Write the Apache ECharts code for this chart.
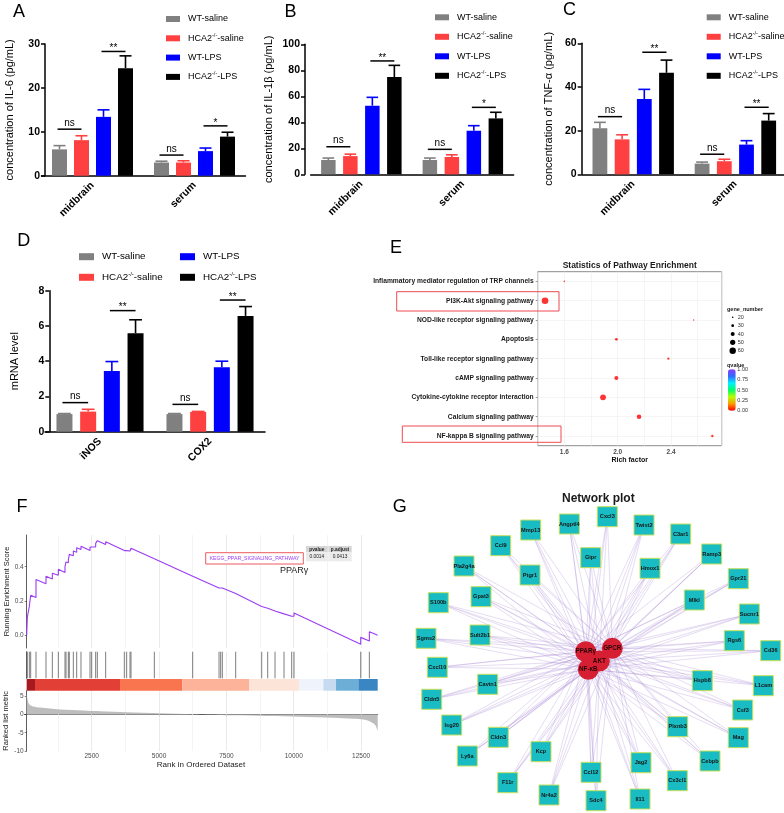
<!DOCTYPE html>
<html><head><meta charset="utf-8">
<script src="https://cdn.jsdelivr.net/npm/echarts@6/dist/echarts.min.js"></script>
<style>html,body{margin:0;padding:0;background:#fff}#c{width:784px;height:813px}</style>
</head><body><div id="c"></div><script>
const FONT = '"Liberation Sans", Arial, Helvetica, sans-serif';

// ================= DATA =================
// Bar panels (A-D)
const groupNames = ['WT-saline', 'HCA2-/--saline', 'WT-LPS', 'HCA2-/--LPS'];
const cytoCats = ['midbrain', 'serum'];
const mrnaCats = ['iNOS', 'COX2'];
// mean[group][category], sem[group][category]
const il6Mean = [[6.0, 3.0], [8.1, 3.0], [13.4, 5.6], [24.5, 8.9]];
const il6Sem  = [[0.85, 0.3], [1.0, 0.4], [1.6, 0.7], [2.8, 1.0]];
const il1bMean = [[11.0, 11.0], [14.0, 13.3], [52.8, 33.5], [74.8, 43.0]];
const il1bSem  = [[1.5, 1.5], [1.5, 1.7], [6.4, 3.9], [9.0, 4.7]];
const tnfMean = [[21.1, 4.9], [16.0, 6.0], [34.5, 13.6], [46.5, 24.6]];
const tnfSem  = [[2.7, 0.7], [2.1, 0.9], [4.4, 1.8], [5.8, 3.2]];
const mrnaMean = [[1.0, 1.0], [1.14, 1.12], [3.45, 3.66], [5.59, 6.57]];
const mrnaSem  = [[0.03, 0.03], [0.13, 0.03], [0.53, 0.34], [0.76, 0.53]];
// significance brackets: [category, fromGroup, toGroup, level]
const il6Sig  = [[0, 0, 1, 10.6], [0, 2, 3, 28.3], [1, 0, 1, 4.7], [1, 2, 3, 11.35]];
const il6SigText = ['ns', '**', 'ns', '*'];
const il1bSig = [[0, 0, 1, 21.2], [0, 2, 3, 87.2], [1, 0, 1, 19.2], [1, 2, 3, 51.5]];
const il1bSigText = ['ns', '**', 'ns', '*'];
const tnfSig  = [[0, 0, 1, 26.4], [0, 2, 3, 55.9], [1, 0, 1, 9.2], [1, 2, 3, 30.7]];
const tnfSigText = ['ns', '**', 'ns', '**'];
const mrnaSig = [[0, 0, 1, 1.65], [0, 2, 3, 6.87], [1, 0, 1, 1.55], [1, 2, 3, 7.47]];
const mrnaSigText = ['ns', '**', 'ns', '**'];

// Panel E (pathway enrichment)
const pathways = ['Inflammatory mediator regulation of TRP channels', 'PI3K-Akt signaling pathway',
  'NOD-like receptor signaling pathway', 'Apoptosis', 'Toll-like receptor signaling pathway',
  'cAMP signaling pathway', 'Cytokine-cytokine receptor interaction', 'Calcium signaling pathway',
  'NF-kappa B signaling pathway'];
const richFactor = [1.60, 1.455, 2.57, 1.99, 2.38, 1.99, 1.89, 2.16, 2.71];
const geneNumber = [20, 62, 18, 30, 26, 40, 55, 45, 27];
const qValue = [0.01, 0.0, 0.02, 0.005, 0.01, 0.0, 0.0, 0.0, 0.01];
const richTicks = [1.6, 2.0, 2.4];
const geneLegend = [20, 30, 40, 50, 60];
const qTicks = [1.00, 0.75, 0.50, 0.25, 0.00];

// Panel F (GSEA)
const esCurve = [[84,0],[109,0],[109,0.105],[183,0.100],[183,0.170],[233,0.166],[233,0.233],[431,0.220],[431,0.325],
  [802,0.300],[802,0.345],[1037,0.328],[1037,0.362],[1260,0.350],[1260,0.385],[1507,0.366],[1507,0.400],
  [1545,0.398],[1545,0.428],[1631,0.423],[1631,0.438],[1668,0.436],[1668,0.472],[1817,0.464],[1817,0.492],
  [1941,0.485],[1941,0.510],[2101,0.500],[2101,0.520],[2436,0.495],[2436,0.515],[2498,0.511],[2498,0.526],
  [2646,0.516],[2646,0.536],[2708,0.532],[2708,0.552],[3017,0.530],[3017,0.545],[3710,0.494],[3710,0.500],
  [3797,0.494],[3797,0.500],[3921,0.492],[3921,0.497],[3958,0.495],[3958,0.508],[4824,0.446],[4824,0.452],
  [6248,0.345],[6248,0.350],[7226,0.276],[7226,0.281],[7287,0.277],[7287,0.281],[7349,0.276],[7349,0.280],
  [7844,0.244],[7844,0.249],[8810,0.168],[8810,0.176],[9033,0.158],[9033,0.164],[9305,0.142],[9305,0.150],
  [9639,0.125],[9639,0.132],[9924,0.111],[9924,0.118],[10010,0.112],[10010,0.130],[12486,-0.052],[12486,-0.012],
  [12807,-0.033],[12807,0.021],[13117,0.000]];
const hitRanks = [109,183,233,431,802,1037,1260,1507,1545,1631,1668,1817,1941,2101,2436,2498,2646,2708,3017,
  3710,3797,3921,3958,4824,6248,7226,7287,7349,7844,8810,9033,9305,9639,9924,10010,12486,12807];
const heatBands = [[84,394],[394,3550],[3550,5864],[5864,8352],[8352,10208],[10208,11100],[11100,11570],[11570,12399],[12399,13117]];
const rankedMetric = [[84,5.6],[146,3.3],[208,2.6],[332,2.2],[580,1.9],[951,1.6],[1322,1.35],[2189,1.05],[2808,0.85],
  [3798,0.6],[5036,0.3],[6274,0.05],[6769,-0.05],[7759,-0.25],[8996,-0.45],[10234,-0.65],[11472,-0.9],
  [12215,-1.15],[12586,-1.4],[12833,-1.9],[13018,-2.8],[13117,-4.5]];
const rankGridLines = [1250,2500,3750,5000,6250,7500,8750,10000,11250,12500];
const rankMax = 13117;
const gseaTable = {pathway: 'KEGG_PPAR_SIGNALING_PATHWAY', pvalue: '0.0014', padjust: '0.0413', gene: 'PPARγ'};

// Panel G (network) - layout coordinates of nodes
const hubNames = ['PPARγ', 'GPCR', 'AKT', 'NF-κB'];
const hubLayout = [[585.7,651.7],[612.3,648.3],[599.3,661],[588.3,669.3]];
const geneNames = ['Angptl4','Cxcl3','Twist2','C3ar1','Mmp13','Ccl9','Gipr','Hmox1','Ramp3','Pla2g4a','Ptgr1',
  'Gpr21','Gpat3','Mlkl','S100b','Sucnr1','Sult2b1','Sgms2','Rgs6','Cd36','Cxcl10','Cavin1','Hspb8','L1cam',
  'Cldn5','Csf3','Isg20','Plxnb3','Mag','Cldn3','Ly6a','Kcp','Cebpb','Jag2','Ccl12','Cx3cl1','F11r','Nr4a2','Sdc4','Il11'];
const geneLayout = [[569.3,524],[607.3,516.7],[644,525],[680.7,534],[530.7,530],[500.7,545.7],[590.7,557.7],
  [650,568.3],[711.7,554],[464,566],[530,575],[738.3,578.7],[481,596.7],[694.3,600],[438.3,602.7],[749.3,614],
  [480,635],[426,638.3],[734.3,640.7],[770.7,650.7],[437.3,667.3],[487.7,684.3],[702.3,680.7],[763.3,685.7],
  [431.7,699.3],[742.7,710],[451.7,725],[677.7,726.7],[738.3,737.7],[498.3,737.3],[467.3,756],[541,751.7],
  [710,761],[641,762.7],[591,772.3],[677.3,780.7],[507.7,782.7],[549,795],[596,800.7],[640,799]];

// ================= STYLE / LAYOUT =================
const barColors = ['#808080', '#FF4040', '#0000FF', '#000000'];
const heatColors = ['#A6191E','#E23F37','#F8754F','#FCB399','#FDE4D8','#EFF3FB','#C6DBEF','#6DAED7','#3A86C2'];
const qColors = ['#FF0000','#FF9A00','#B8FF00','#00FF6A','#00F0FF','#2F6BFF','#8A3CFF'];

const barPanels = [
  {cats: cytoCats, mean: il6Mean, sem: il6Sem, sig: il6Sig, sigText: il6SigText, yMax: 30, yInt: 10,
   name: 'concentration of IL-6 (pg/mL)', grid: {left: 41.5, top: 44, width: 204, height: 131.7}, yOff: -3.5, nameGap: 30, bw: 15, pitch: 22},
  {cats: cytoCats, mean: il1bMean, sem: il1bSem, sig: il1bSig, sigText: il1bSigText, yMax: 100, yInt: 20,
   name: 'concentration of IL-1β (pg/mL)', grid: {left: 310.6, top: 44.3, width: 203, height: 130}, yOff: 5.6, nameGap: 31, bw: 14.5, pitch: 22},
  {cats: cytoCats, mean: tnfMean, sem: tnfSem, sig: tnfSig, sigText: tnfSigText, yMax: 60, yInt: 20,
   name: 'concentration of TNF-α (pg/mL)', grid: {left: 582.1, top: 43.3, width: 204.4, height: 131}, yOff: 0.4, nameGap: 27.5, bw: 14.8, pitch: 22.2},
  {cats: mrnaCats, mean: mrnaMean, sem: mrnaSem, sig: mrnaSig, sigText: mrnaSigText, yMax: 8, yInt: 2,
   name: 'mRNA level', grid: {left: 45, top: 290.7, width: 220, height: 141}, yOff: -4.3, nameGap: 29, bw: 16, pitch: 23.7}
];

const F_LEFT = 24.4, F_WIDTH = 353.3;

const grids = [];
const xAxes = [];
const yAxes = [];
const series = [];

barPanels.forEach((p, gi) => {
  grids.push(Object.assign({containLabel: false, outerBoundsMode: 'none'}, p.grid));
  xAxes.push({gridIndex: gi, type: 'category', data: p.cats,
    axisLine: {lineStyle: {color: '#000', width: 1.5}},
    axisTick: {alignWithLabel: true, length: 4, lineStyle: {color: '#000', width: 1.5}},
    axisLabel: {rotate: 45, interval: 0, fontWeight: 'bold', fontSize: 10.5, color: '#000', margin: 8, fontFamily: FONT},
    splitLine: {show: false}});
  yAxes.push({gridIndex: gi, type: 'value', min: 0, max: p.yMax, interval: p.yInt, offset: p.yOff,
    axisLine: {show: true, lineStyle: {color: '#000', width: 1.5}},
    axisTick: {show: true, length: 4, lineStyle: {color: '#000', width: 1.5}},
    axisLabel: {fontWeight: 'bold', fontSize: 10.5, color: '#000', margin: 5, fontFamily: FONT},
    splitLine: {show: false},
    name: p.name, nameLocation: 'middle', nameGap: p.nameGap,
    nameTextStyle: {fontSize: 11, color: '#000', fontFamily: FONT}});
  const gapPct = ((p.pitch - p.bw) / p.bw * 100).toFixed(1) + '%';
  groupNames.forEach((g, s) => {
    series.push({type: 'bar', name: g, xAxisIndex: gi, yAxisIndex: gi, silent: true,
      data: p.mean[s], barWidth: p.bw, barGap: gapPct, itemStyle: {color: barColors[s]}});
  });
});
barPanels.forEach((p, gi) => {
  const errData = [];
  groupNames.forEach((g, s) => p.cats.forEach((c, j) => errData.push([j, s, p.mean[s][j], p.mean[s][j] + p.sem[s][j]])));
  series.push({type: 'custom', xAxisIndex: gi, yAxisIndex: gi, silent: true, z: 3,
    encode: {x: 0, y: [2, 3]}, data: errData,
    renderItem: (params, api) => {
      const s = api.value(1);
      const base = api.coord([api.value(0), api.value(2)]);
      const top = api.coord([api.value(0), api.value(3)]);
      const x = base[0] + (s - 1.5) * p.pitch;
      const cap = p.bw * 0.8;
      const st = {stroke: barColors[s], lineWidth: 1.6};
      return {type: 'group', children: [
        {type: 'line', shape: {x1: x, y1: base[1], x2: x, y2: top[1]}, style: st},
        {type: 'line', shape: {x1: x - cap / 2, y1: top[1], x2: x + cap / 2, y2: top[1]}, style: st}
      ]};
    }});
});
barPanels.forEach((p, gi) => {
  series.push({type: 'custom', xAxisIndex: gi, yAxisIndex: gi, silent: true, z: 4,
    encode: {x: 0, y: 3}, data: p.sig,
    renderItem: (params, api) => {
      const c = api.coord([api.value(0), api.value(3)]);
      const x1 = c[0] + (api.value(1) - 1.5) * p.pitch - 2;
      const x2 = c[0] + (api.value(2) - 1.5) * p.pitch;
      const label = p.sigText[params.dataIndex];
      const isStar = label.indexOf('*') >= 0;
      return {type: 'group', children: [
        {type: 'line', shape: {x1: x1, y1: c[1], x2: x2, y2: c[1]}, style: {stroke: '#000', lineWidth: 1.5}},
        {type: 'text', x: (x1 + x2) / 2, y: c[1] - (isStar ? -2 : 1),
         style: {text: label, fontSize: 10, fontFamily: FONT, fill: '#000',
           align: 'center', verticalAlign: 'bottom', textAlign: 'center', textVerticalAlign: 'bottom'}}
      ]};
    }});
});

// ---- Panel E
const E_GI = 4;
grids.push({left: 537.7, top: 271.7, width: 184, height: 174, show: true, borderColor: '#8C8C8C', borderWidth: 1,
  backgroundColor: '#fff', containLabel: false, outerBoundsMode: 'none'});
xAxes.push({gridIndex: E_GI, type: 'value', min: 1.4, max: 2.78, interval: 0.2,
  axisLine: {show: false}, axisTick: {show: false},
  axisLabel: {fontSize: 6.5, fontWeight: 'bold', color: '#4D4D4D', margin: 3, showMaxLabel: false, fontFamily: FONT,
    formatter: v => richTicks.some(t => Math.abs(t - v) < 1e-6) ? v.toFixed(1) : ''},
  splitLine: {show: true, lineStyle: {color: '#EFEFEF', width: 0.6}},
  name: 'Rich factor', nameLocation: 'middle', nameGap: 10,
  nameTextStyle: {fontSize: 7, fontWeight: 'bold', color: '#111', fontFamily: FONT}});
yAxes.push({gridIndex: E_GI, type: 'category', data: pathways, inverse: true,
  axisLine: {show: false},
  axisTick: {show: true, alignWithLabel: true, length: 2, lineStyle: {color: '#4D4D4D', width: 0.6}},
  axisLabel: {fontSize: 6.7, fontWeight: 'bold', color: '#1a1a1a', margin: 4, interval: 0, fontFamily: FONT},
  splitLine: {show: false}});
const E_SERIES_INDEX = series.length;
const geneSize = n => 1 + (n - 15) * 0.12;
series.push({type: 'scatter', xAxisIndex: E_GI, yAxisIndex: E_GI, silent: true, z: 3,
  data: pathways.map((p, i) => [richFactor[i], i, geneNumber[i], qValue[i]]),
  symbolSize: v => geneSize(v[2]),
  markLine: {silent: true, symbol: ['none', 'none'], z: 1, label: {show: false}, animation: false,
    lineStyle: {color: '#EFEFEF', width: 0.6, type: 'solid'},
    data: pathways.map(p => ({yAxis: p}))}});

// ---- Panel F (4 stacked grids)
const fGrid = (top, height) => ({left: F_LEFT, top, width: F_WIDTH, height, containLabel: false, outerBoundsMode: 'none'});
const ES_GI = 5, TK_GI = 6, HM_GI = 7, RM_GI = 8;
grids.push(fGrid(535, 113), fGrid(651.7, 26.6), fGrid(679, 11.7), fGrid(690.7, 60.3));
const hiddenX = gi => ({gridIndex: gi, type: 'value', min: 0, max: rankMax, show: false});
xAxes.push(hiddenX(ES_GI), hiddenX(TK_GI), hiddenX(HM_GI));
xAxes.push({gridIndex: RM_GI, type: 'value', min: 0, max: rankMax, interval: 2500,
  axisLine: {show: true, lineStyle: {color: '#333', width: 0.8}},
  axisTick: {show: true, length: 2, lineStyle: {color: '#333', width: 0.6}},
  axisLabel: {fontSize: 6.5, color: '#4D4D4D', margin: 2, showMinLabel: false, showMaxLabel: false, fontFamily: FONT,
    formatter: v => String(Math.round(v))},
  splitLine: {show: false},
  name: 'Rank in Ordered Dataset', nameLocation: 'middle', nameGap: 9,
  nameTextStyle: {fontSize: 8, color: '#1a1a1a', fontFamily: FONT}});
const fAxisLine = {show: true, lineStyle: {color: '#333', width: 0.8}};
yAxes.push({gridIndex: ES_GI, type: 'value', min: -0.074, max: 0.585, splitNumber: 3, offset: -2.3,
  axisLine: fAxisLine, axisTick: {show: true, length: 2, lineStyle: {color: '#333', width: 0.6}},
  axisLabel: {fontSize: 6.5, color: '#4D4D4D', margin: 3, showMinLabel: false, showMaxLabel: false,
    formatter: v => v.toFixed(1), fontFamily: FONT},
  splitLine: {show: false},
  name: 'Running Enrichment Score', nameLocation: 'middle', nameGap: 15,
  nameTextStyle: {fontSize: 7.5, color: '#1a1a1a', fontFamily: FONT}});
yAxes.push({gridIndex: TK_GI, type: 'value', min: 0, max: 1, offset: -2.3, axisLine: fAxisLine,
  axisTick: {show: false}, axisLabel: {show: false}, splitLine: {show: false}});
yAxes.push({gridIndex: HM_GI, type: 'value', min: 0, max: 1, show: false});
yAxes.push({gridIndex: RM_GI, type: 'value', min: -10, max: 6.5, interval: 5, offset: -2.3,
  axisLine: fAxisLine, axisTick: {show: true, length: 2, lineStyle: {color: '#333', width: 0.6}},
  axisLabel: {fontSize: 6.5, color: '#4D4D4D', margin: 3, showMaxLabel: false, fontFamily: FONT},
  splitLine: {show: false},
  name: 'Ranked list metric', nameLocation: 'middle', nameGap: 15,
  nameTextStyle: {fontSize: 7.5, color: '#1a1a1a', fontFamily: FONT}});

const rankGridMark = {silent: true, symbol: ['none', 'none'], z: 1, label: {show: false}, animation: false,
  data: rankGridLines.map(v => ({xAxis: v, lineStyle: {color: v % 2500 === 0 ? '#E6E6E6' : '#F1F1F1', width: 0.8, type: 'solid'}}))};

series.push({type: 'line', xAxisIndex: ES_GI, yAxisIndex: ES_GI, silent: true, data: esCurve, symbol: 'none',
  lineStyle: {color: '#9B3DF2', width: 1.1}, z: 3, markLine: rankGridMark});
series.push({type: 'custom', xAxisIndex: TK_GI, yAxisIndex: TK_GI, silent: true, z: 3,
  encode: {x: 0, y: 1}, data: hitRanks.map(r => [r, 0]), markLine: rankGridMark,
  renderItem: (params, api) => {
    const a = api.coord([api.value(0), 0]);
    const b = api.coord([api.value(0), 1]);
    return {type: 'line', shape: {x1: a[0], y1: a[1], x2: b[0], y2: b[1]}, style: {stroke: '#555', lineWidth: 0.9, opacity: 0.85}};
  }});
series.push({type: 'custom', xAxisIndex: HM_GI, yAxisIndex: HM_GI, silent: true, z: 3,
  encode: {x: [0, 1]}, data: heatBands.map((b, i) => [b[0], b[1], i]),
  renderItem: (params, api) => {
    const p0 = api.coord([api.value(0), 1]);
    const p1 = api.coord([api.value(1), 0]);
    return {type: 'rect', shape: {x: p0[0], y: p0[1], width: p1[0] - p0[0], height: p1[1] - p0[1]},
      style: {fill: heatColors[api.value(2)]}};
  }});
series.push({type: 'line', xAxisIndex: RM_GI, yAxisIndex: RM_GI, silent: true, data: rankedMetric, symbol: 'none',
  smooth: 0.3, lineStyle: {width: 0}, areaStyle: {color: '#BDBDBD', opacity: 1}, z: 3, markLine: rankGridMark});

// ---- Panel G (network)
const allLayout = hubLayout.concat(geneLayout);
const gx = allLayout.map(d => d[0]), gy = allLayout.map(d => d[1]);
const gMinX = Math.min(...gx), gMaxX = Math.max(...gx), gMinY = Math.min(...gy), gMaxY = Math.max(...gy);
const nodes = geneNames.map((n, i) => ({name: n, x: geneLayout[i][0], y: geneLayout[i][1], symbol: 'rect', symbolSize: [20, 20],
    itemStyle: {color: '#18BCC2', borderColor: '#C6E05C', borderWidth: 1},
    label: {show: true, position: 'inside', fontSize: 5.6, fontWeight: 'bold', color: '#151515', fontFamily: FONT}}))
  .concat(hubNames.map((n, i) => ({name: n, x: hubLayout[i][0], y: hubLayout[i][1], symbol: 'circle', symbolSize: 21,
    itemStyle: {color: '#D61F33'},
    label: {show: true, position: 'inside', fontSize: 6.3, fontWeight: 'bold', color: '#2a0508', fontFamily: FONT}})));
const links = [];
geneNames.forEach(g => hubNames.forEach(h => links.push({source: g, target: h})));
series.push({type: 'graph', layout: 'none', roam: false, silent: true,
  left: gMinX, top: gMinY, width: gMaxX - gMinX, height: gMaxY - gMinY,
  data: nodes, links: links, edgeSymbol: ['none', 'none'],
  lineStyle: {color: '#A888D2', width: 0.6, opacity: 0.5, curveness: 0}, z: 2});

// ---- Legends
const legendFormatter = name => name.replace('-/-', '{s|-/-}');
const mkLegend = (left, top, data, gap, iw, ih, fs) => ({
  selectedMode: false, orient: 'vertical', left, top, padding: 0, itemGap: gap, itemWidth: iw, itemHeight: ih,
  icon: 'rect', data, formatter: legendFormatter,
  textStyle: {fontSize: fs, lineHeight: 12, color: '#000', fontFamily: FONT, padding: [0, 0, 0, 3],
    rich: {s: {fontSize: fs * 0.62, verticalAlign: 'top', fontFamily: FONT, color: '#000'}}}
});
const legends = [
  mkLegend(166, 13, groupNames, 7.3, 14, 6, 9),
  mkLegend(435, 11.3, groupNames, 7.5, 14, 6, 9),
  mkLegend(706.7, 11.3, groupNames, 7.5, 14, 6, 9),
  mkLegend(79, 250.7, [groupNames[0], groupNames[1]], 8.6, 15, 7, 9.8),
  mkLegend(180, 250.7, [groupNames[2], groupNames[3]], 8.6, 15, 7, 9.8)
];

// ---- Graphic annotations
function txt(text, x, y, size, o) {
  o = o || {};
  const align = o.align || 'left';
  return {type: 'text', x, y, silent: true, z: 100,
    style: {text, fontSize: size, fontFamily: FONT, fontWeight: o.weight || 'normal', fill: o.fill || '#000',
      align, textAlign: align, verticalAlign: 'middle', textVerticalAlign: 'middle'}};
}
function rect(x, y, w, h, style) {
  return {type: 'rect', silent: true, z: 99, shape: {x, y, width: w, height: h}, style};
}
const gfx = [
  txt('A', 13, 12, 18), txt('B', 284.5, 12, 18), txt('C', 563, 10.5, 18), txt('D', 17.3, 241, 18),
  txt('E', 390, 248, 18), txt('F', 16.5, 507, 18), txt('G', 392.7, 507.5, 18),
  txt('Statistics of Pathway Enrichment', 629.7, 265.7, 8.5, {align: 'center', weight: 'bold', fill: '#1a1a1a'}),
  txt('Network plot', 598.3, 499, 12, {align: 'center', weight: 'bold', fill: '#1a1a1a'}),
  rect(396.7, 291.7, 162.3, 19.3, {fill: 'none', stroke: '#EE4B50', lineWidth: 1}),
  rect(402.3, 426, 158.7, 16.3, {fill: 'none', stroke: '#EE4B50', lineWidth: 1}),
  txt('gene_number', 727, 309, 5.5, {weight: 'bold', fill: '#1a1a1a'}),
  txt('qvalue', 727, 365, 5.5, {weight: 'bold', fill: '#1a1a1a'})
];
geneLegend.forEach((g, k) => {
  gfx.push({type: 'circle', silent: true, z: 100, shape: {cx: 732.7, cy: 317.3 + k * 8.35, r: geneSize(g) / 2}, style: {fill: '#000'}});
  gfx.push(txt(String(g), 737.7, 317.3 + k * 8.35, 5.5, {fill: '#333'}));
});
qTicks.forEach((q, k) => gfx.push(txt(q.toFixed(2), 737.3, 369.3 + k * 10.35, 5.5, {fill: '#333'})));
// GSEA legend box and table
gfx.push(rect(205.7, 552.7, 97.6, 11.3, {fill: '#fff', stroke: '#EE5A5E', lineWidth: 1}));
gfx.push(txt(gseaTable.pathway, 254.5, 558.4, 5.2, {align: 'center', fill: '#9B3DF2'}));
gfx.push(rect(306, 546, 21.7, 6.3, {fill: '#D6D6D6'}));
gfx.push(rect(328.3, 546, 23.4, 6.3, {fill: '#D6D6D6'}));
gfx.push(rect(306, 552.3, 21.7, 9, {fill: '#EBEBEB'}));
gfx.push(rect(328.3, 552.3, 23.4, 9, {fill: '#EBEBEB'}));
gfx.push(txt('pvalue', 316.8, 549.3, 4.8, {align: 'center', weight: 'bold', fill: '#222'}));
gfx.push(txt('p.adjust', 340, 549.3, 4.8, {align: 'center', weight: 'bold', fill: '#222'}));
gfx.push(txt(gseaTable.pvalue, 316.8, 556.8, 4.8, {align: 'center', fill: '#222'}));
gfx.push(txt(gseaTable.padjust, 340, 556.8, 4.8, {align: 'center', fill: '#222'}));
gfx.push(txt(gseaTable.gene, 280, 570.5, 9, {fill: '#222'}));

const option = {
  animation: false,
  backgroundColor: '#fff',
  textStyle: {fontFamily: FONT},
  grid: grids, xAxis: xAxes, yAxis: yAxes,
  legend: legends,
  visualMap: [{type: 'continuous', min: 0, max: 1, dimension: 3, seriesIndex: E_SERIES_INDEX,
    inRange: {color: qColors}, orient: 'vertical', left: 728, top: 369.3, itemWidth: 7.7, itemHeight: 41.4,
    calculable: false, text: null, padding: 0, hoverLink: false, realtime: false}],
  graphic: {elements: gfx},
  series
};
const chart = echarts.init(document.getElementById('c'), null, {renderer: 'canvas'});
chart.setOption(option);
</script></body></html>
